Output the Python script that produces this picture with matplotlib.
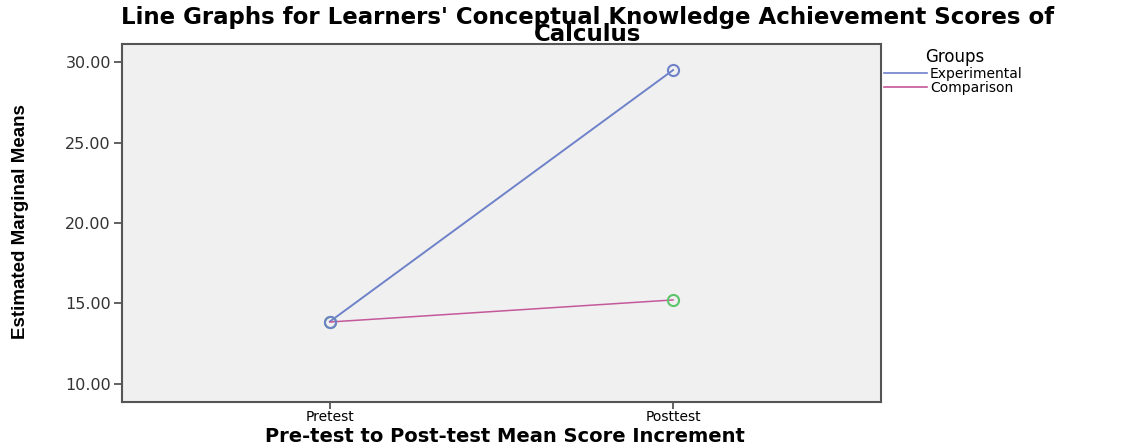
import matplotlib.pyplot as plt
from matplotlib.lines import Line2D

# estimated marginal means
tests = ['Pretest', 'Posttest']
experimental = [13.88, 29.50]
comparison = [13.85, 15.22]
yticks = [10, 15, 20, 25, 30]

plt.rcParams['font.family'] = ['DejaVu Sans']

fig = plt.figure(figsize=(11.22, 4.47), dpi=100)
ax = fig.add_axes([122/1122, 1-402/447, (881-122)/1122, (402-44)/447])
ax.set_facecolor('#f0f0f0')

x = list(range(len(tests)))
blue = '#6f82c9'
pink = '#c4589a'
green = '#5cc46a'

ax.plot(x, experimental, color=blue, lw=1.4, zorder=2)
ax.plot(x, comparison, color=pink, lw=1.1, zorder=2)
ax.plot(x, comparison, ls='none', marker='o', ms=8, mfc='none', mec=green, mew=1.5, zorder=3)
ax.plot(x, experimental, ls='none', marker='o', ms=8, mfc='none', mec=blue, mew=1.5, zorder=4)

ax.set_xlim(-0.606, 1.606)
ax.set_ylim(8.88, 31.12)
ax.set_xticks(x)
ax.set_xticklabels(tests, fontsize=10)
ax.set_yticks(yticks)
ax.set_yticklabels(['%.2f' % v for v in yticks], fontsize=11.5, color='#333333')
ax.tick_params(axis='both', length=6, width=1.3, color='#555555', pad=2)
ax.tick_params(axis='x', length=5, pad=0.5)
for s in ax.spines.values():
    s.set_color('#555555')
    s.set_linewidth(1.5)

ax.set_xlabel('Pre-test to Post-test Mean Score Increment', fontsize=14,
              fontweight='bold', va='center')
ax.xaxis.set_label_coords(0.505, -0.095)
ax.set_ylabel('Estimated Marginal Means', fontsize=13.5, fontweight='bold',
              family=['Liberation Sans', 'DejaVu Sans'])
ax.yaxis.set_label_coords(-0.122, 0.503)

fig.text(0.524, 1-26/447, "Line Graphs for Learners' Conceptual Knowledge Achievement Scores of\nCalculus",
         ha='center', va='center', fontsize=16.5, fontweight='bold', linespacing=0.72)

fig.text(925/1122, 1-57/447, 'Groups', ha='left', va='center', fontsize=12)
handles = [Line2D([], [], color=blue, lw=1.2), Line2D([], [], color=pink, lw=1.2)]
leg = fig.legend(handles, ['Experimental', 'Comparison'],
                 loc='upper left', bbox_to_anchor=(884/1122, 1-67/447), frameon=False,
                 fontsize=10, handlelength=3.1, handletextpad=0.2,
                 labelspacing=0.0, borderaxespad=0, borderpad=0)

fig.savefig('out.png', dpi=100)
